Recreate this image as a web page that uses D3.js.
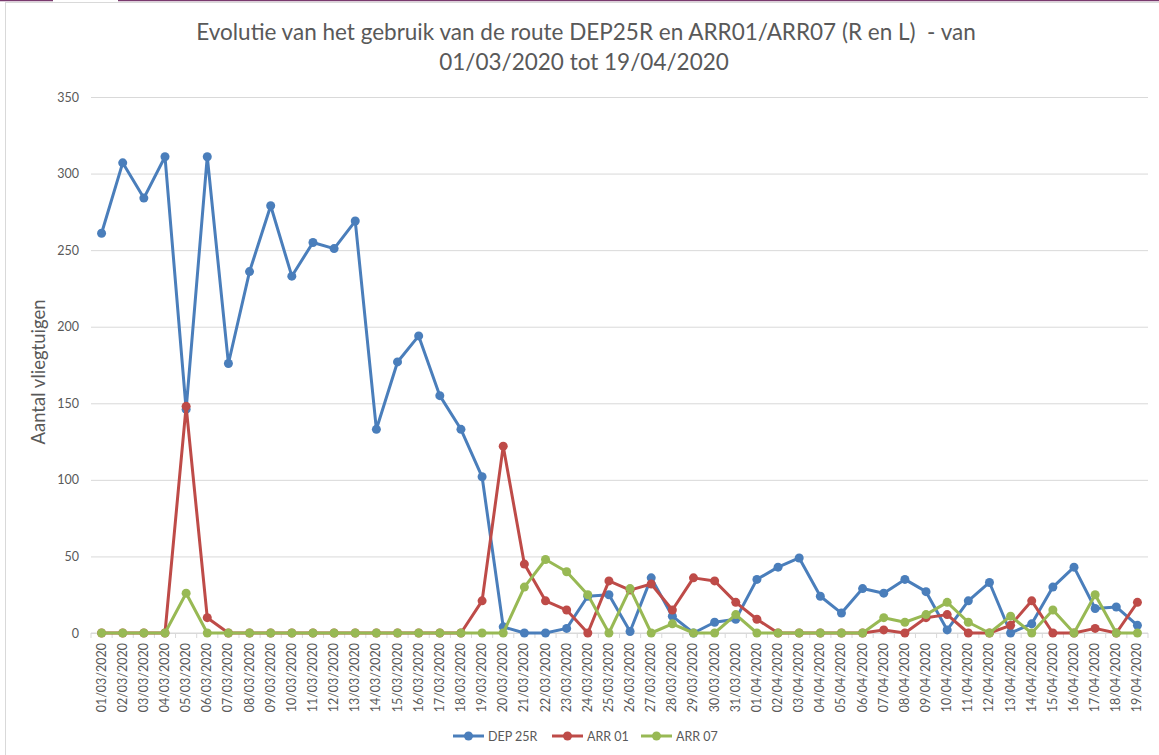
<!DOCTYPE html>
<html>
<head>
<meta charset="utf-8">
<script src="https://cdn.jsdelivr.net/npm/d3@7"></script>
<style>
  html, body { margin: 0; padding: 0; background: #fff; }
  svg { display: block; font-family: Lato, "Open Sans", sans-serif; }
</style>
</head>
<body>
<svg id="chart" width="1159" height="755"></svg>
<script>
// dates (categories)
var dates = ["01/03/2020","02/03/2020","03/03/2020","04/03/2020","05/03/2020","06/03/2020","07/03/2020","08/03/2020","09/03/2020","10/03/2020",
  "11/03/2020","12/03/2020","13/03/2020","14/03/2020","15/03/2020","16/03/2020","17/03/2020","18/03/2020","19/03/2020","20/03/2020",
  "21/03/2020","22/03/2020","23/03/2020","24/03/2020","25/03/2020","26/03/2020","27/03/2020","28/03/2020","29/03/2020","30/03/2020",
  "31/03/2020","01/04/2020","02/04/2020","03/04/2020","04/04/2020","05/04/2020","06/04/2020","07/04/2020","08/04/2020","09/04/2020",
  "10/04/2020","11/04/2020","12/04/2020","13/04/2020","14/04/2020","15/04/2020","16/04/2020","17/04/2020","18/04/2020","19/04/2020"];

var dep25R = [261, 307, 284, 311, 146, 311, 176, 236, 279, 233,
  255, 251, 269, 133, 177, 194, 155, 133, 102, 4,
  0, 0, 3, 24, 25, 1, 36, 11, 0, 7,
  9, 35, 43, 49, 24, 13, 29, 26, 35, 27,
  2, 21, 33, 0, 6, 30, 43, 16, 17, 5];

var arr01 = [0, 0, 0, 0, 148, 10, 0, 0, 0, 0,
  0, 0, 0, 0, 0, 0, 0, 0, 21, 122,
  45, 21, 15, 0, 34, 28, 32, 15, 36, 34,
  20, 9, 0, 0, 0, 0, 0, 2, 0, 10,
  12, 0, 0, 5, 21, 0, 0, 3, 0, 20];

var arr07 = [0, 0, 0, 0, 26, 0, 0, 0, 0, 0,
  0, 0, 0, 0, 0, 0, 0, 0, 0, 0,
  30, 48, 40, 25, 0, 29, 0, 6, 0, 0,
  12, 0, 0, 0, 0, 0, 0, 10, 7, 12,
  20, 7, 0, 11, 0, 15, 0, 25, 0, 0];

var yTicks = [0, 50, 100, 150, 200, 250, 300, 350];

var series = [
  { name: "DEP 25R", values: dep25R, color: "#4a7ebb" },
  { name: "ARR 01", values: arr01, color: "#be4b48" },
  { name: "ARR 07", values: arr07, color: "#98b954" }
];

var svg = d3.select("#chart");
var textColor = "#595959", gridColor = "#d9d9d9";

// frame bits
svg.append("line").attr("x1", 0).attr("x2", 53).attr("y1", 0.5).attr("y2", 0.5)
  .attr("stroke", "#7a3a6e").attr("stroke-width", 1.5);
svg.append("line").attr("x1", 118).attr("x2", 1159).attr("y1", 0.5).attr("y2", 0.5)
  .attr("stroke", "#7a3a6e").attr("stroke-width", 1.5);
svg.append("line").attr("x1", 5).attr("x2", 1159).attr("y1", 2.5).attr("y2", 2.5)
  .attr("stroke", "#d9d9d9").attr("stroke-width", 1);
svg.append("line").attr("x1", 5.5).attr("x2", 5.5).attr("y1", 2).attr("y2", 755)
  .attr("stroke", "#d9d9d9").attr("stroke-width", 1);

var x = d3.scaleBand().domain(dates).range([91, 1148]);
var y = d3.scaleLinear().domain([0, 350]).range([633, 97]);
var cx = function (i) { return x(dates[i]) + x.bandwidth() / 2; };

// title
var title = svg.append("text").attr("text-anchor", "middle").attr("fill", textColor)
  .style("font-size", "22.5px").style("white-space", "pre");
title.append("tspan").attr("x", 586).attr("y", 40)
  .text("Evolutie van het gebruik van de route DEP25R en ARR01/ARR07 (R en L)  - van");
title.append("tspan").attr("x", 584).attr("y", 70).text("01/03/2020 tot 19/04/2020");

// grid + y axis
var yAxis = svg.append("g")
  .attr("transform", "translate(91,0)")
  .call(d3.axisLeft(y).tickValues(yTicks).tickSize(-1057).tickPadding(12));
yAxis.select(".domain").remove();
yAxis.selectAll(".tick line").attr("stroke", gridColor);
yAxis.selectAll(".tick text").attr("fill", textColor)
  .style("font-size", "12.5px").style("font-family", "Lato, sans-serif");

svg.append("text")
  .attr("transform", "translate(45,372) rotate(-90)")
  .attr("text-anchor", "middle")
  .attr("fill", textColor)
  .style("font-size", "18.5px")
  .text("Aantal vliegtuigen");

// x axis
svg.append("line").attr("x1", 91).attr("x2", 1148).attr("y1", y(0)).attr("y2", y(0))
  .attr("stroke", gridColor);
var bounds = dates.map(function (d) { return x(d); }).concat([x.range()[1]]);
svg.append("g").selectAll("line").data(bounds).enter().append("line")
  .attr("x1", function (d) { return d; }).attr("x2", function (d) { return d; })
  .attr("y1", y(0)).attr("y2", y(0) + 5)
  .attr("stroke", gridColor);

svg.append("g").selectAll("text").data(dates).enter().append("text")
  .attr("transform", function (d) {
    return "translate(" + (x(d) + x.bandwidth() / 2 + 4) + "," + (y(0) + 10) + ") rotate(-90)";
  })
  .attr("text-anchor", "end")
  .attr("fill", textColor)
  .style("font-size", "12.5px")
  .text(function (d) { return d; });

// lines
var line = d3.line()
  .x(function (d, i) { return cx(i); })
  .y(function (d) { return y(d); });

series.forEach(function (s) {
  var g = svg.append("g");
  g.append("path")
    .attr("d", line(s.values))
    .attr("fill", "none")
    .attr("stroke", s.color)
    .attr("stroke-width", 3)
    .attr("stroke-linejoin", "round");
  g.selectAll("circle").data(s.values).enter().append("circle")
    .attr("cx", function (d, i) { return cx(i); })
    .attr("cy", function (d) { return y(d); })
    .attr("r", 4.5)
    .attr("fill", s.color);
});

// legend
var legendX = [453, 552, 641];
var legend = svg.append("g").selectAll("g").data(series).enter().append("g")
  .attr("transform", function (d, i) { return "translate(" + legendX[i] + ",736)"; });
legend.append("line").attr("x1", 0).attr("x2", 31).attr("y1", 0).attr("y2", 0)
  .attr("stroke", function (d) { return d.color; }).attr("stroke-width", 3);
legend.append("circle").attr("cx", 15.5).attr("cy", 0).attr("r", 4.5)
  .attr("fill", function (d) { return d.color; });
legend.append("text").attr("x", 35).attr("y", 4.5)
  .attr("fill", textColor).style("font-size", "12.5px")
  .text(function (d) { return d.name; });
</script>
</body>
</html>
